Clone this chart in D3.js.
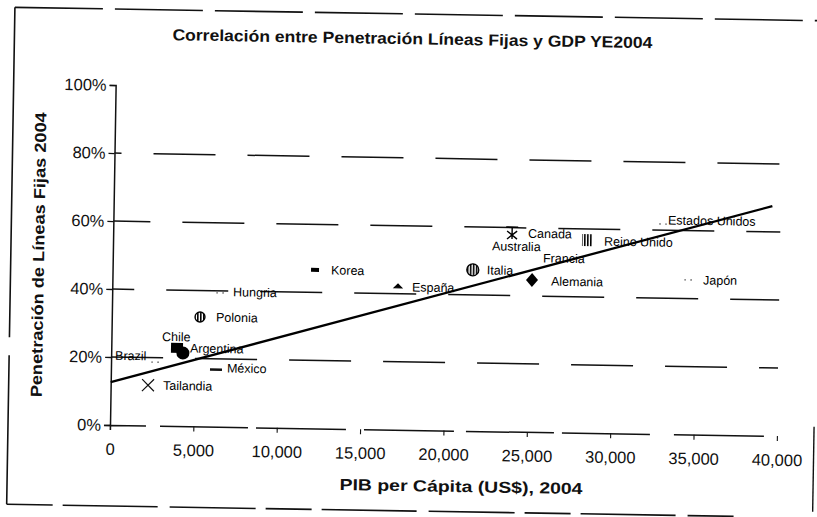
<!DOCTYPE html>
<html>
<head>
<meta charset="utf-8">
<script src="https://cdn.jsdelivr.net/npm/d3@7/dist/d3.min.js"></script>
<style>
  html, body { margin: 0; padding: 0; background: #fff; }
  svg { display: block; font-family: "Liberation Sans", Arial, sans-serif; }
</style>
</head>
<body>
<svg id="chart" width="817" height="517"></svg>
<script>
// ---- data ----
const countries = ["Brazil", "Chile", "Argentina", "México", "Tailandia", "Polonia", "Hungria",
  "Korea", "España", "Italia", "Canada", "Australia", "Francia", "Alemania",
  "Reino Unido", "Estados Unidos", "Japón"];
const gdpPerCapita = [2640, 3940, 4300, 6300, 2240, 5290, 6470,
  12140, 17130, 21600, 23920, 22250, 25440, 25160,
  28420, 32960, 34520];
const penetration = [0.187, 0.230, 0.215, 0.167, 0.119, 0.322, 0.394,
  0.466, 0.423, 0.474, 0.584, 0.542, 0.509, 0.447,
  0.567, 0.618, 0.455];
const xTickValues = [0, 5000, 10000, 15000, 20000, 25000, 30000, 35000, 40000];
const yTickValues = [0, 0.2, 0.4, 0.6, 0.8, 1.0];
const trendX = [0, 39500];
const trendY = [0.126, 0.676];

const titleText = "Correlación entre Penetración Líneas Fijas y GDP YE2004";
const xTitle = "PIB per Cápita (US$), 2004";
const yTitle = "Penetración de Líneas Fijas 2004";

// ---- styles (marker type and label offset per country) ----
const markerStyle = {
  "Brazil": "faint", "Chile": "square", "Argentina": "circle", "México": "dash",
  "Tailandia": "x", "Polonia": "hatchCircle", "Hungria": "faint", "Korea": "smallDash",
  "España": "tri", "Italia": "hatchCircleBig", "Canada": "star", "Australia": "none",
  "Francia": "none", "Alemania": "diamond", "Reino Unido": "stripeRect",
  "Estados Unidos": "faint", "Japón": "faint"
};
const labelOffset = {
  "Brazil": [-40, -5], "Chile": [-15, -10], "Argentina": [7, -4], "México": [11, -1],
  "Tailandia": [15, 1], "Polonia": [16, 1], "Hungria": [13, 0], "Korea": [16, 1],
  "España": [14, 2], "Italia": [14, 1], "Canada": [16, 1], "Australia": [8, 0],
  "Francia": [6, 0], "Alemania": [19, 2], "Reino Unido": [17, 2],
  "Estados Unidos": [5, -3], "Japón": [15, 1]
};

// ---- layout ----
const svg = d3.select("#chart");
const ox = 110, oy = 425, pw = 667, ph = 340;

const defs = svg.append("defs");
const pat = defs.append("pattern").attr("id", "vstripes").attr("patternUnits", "userSpaceOnUse")
  .attr("width", 3).attr("height", 3);
pat.append("rect").attr("width", 3).attr("height", 3).attr("fill", "#fff");
pat.append("rect").attr("width", 1.6).attr("height", 3).attr("fill", "#000");

const root = svg.append("g").attr("transform", `rotate(0.95, ${ox}, ${oy})`);

// frame (scanned border)
const frame = root.append("g").attr("stroke", "#111").attr("fill", "none");
frame.append("line").attr("x1", 8).attr("y1", 9).attr("x2", 830).attr("y2", 9)
  .attr("stroke-width", 1.6).attr("stroke-dasharray", "88,12");
frame.append("line").attr("x1", 8).attr("y1", 9).attr("x2", 8).attr("y2", 506)
  .attr("stroke-width", 1.6).attr("stroke-dasharray", "330,18,200");
frame.append("line").attr("x1", 8).attr("y1", 506).attr("x2", 735).attr("y2", 506)
  .attr("stroke-width", 1.6).attr("stroke-dasharray", "46,10,95,12,86,10");
frame.append("line").attr("x1", 814).attr("y1", 415).attr("x2", 814).attr("y2", 500)
  .attr("stroke-width", 1.4);

const x = d3.scaleLinear().domain([0, 40000]).range([ox, ox + pw]);
const y = d3.scaleLinear().domain([0, 1]).range([oy, oy - ph]);

// gridlines
const grid = root.append("g");
[0.2, 0.4, 0.6, 0.8].forEach((v, i) => {
  grid.append("line")
    .attr("x1", x(0)).attr("x2", x(40000))
    .attr("y1", y(v)).attr("y2", y(v))
    .attr("stroke", "#111").attr("stroke-width", 1.5)
    .attr("stroke-dasharray", "62,32")
    .attr("stroke-dashoffset", [10, 40, 25, 55][i]);
});

// title
root.append("text").attr("x", 406).attr("y", 35)
  .attr("text-anchor", "middle").attr("dominant-baseline", "middle")
  .attr("font-size", 16).attr("font-weight", "bold").attr("fill", "#111")
  .attr("textLength", 480).attr("lengthAdjust", "spacingAndGlyphs")
  .text(titleText);

// y axis
const yAxis = root.append("g").attr("transform", `translate(${ox},0)`)
  .call(d3.axisLeft(y).tickValues(yTickValues).tickFormat(d3.format(".0%")).tickSize(6).tickSizeOuter(6));
yAxis.selectAll("text").attr("font-size", 16.5).attr("fill", "#111")
  .attr("font-family", "Liberation Sans, Arial, sans-serif").attr("x", -9);
yAxis.selectAll("line").attr("stroke", "#111").attr("stroke-width", 1.3);
yAxis.select(".domain").attr("stroke", "#111").attr("stroke-width", 1.5);

// x axis
const xAxis = root.append("g").attr("transform", `translate(0,${oy})`)
  .call(d3.axisBottom(x).tickValues(xTickValues).tickFormat(d3.format(",")).tickSize(5).tickSizeOuter(5));
xAxis.selectAll("text").attr("font-size", 16.5).attr("fill", "#111")
  .attr("font-family", "Liberation Sans, Arial, sans-serif").attr("y", 18);
xAxis.selectAll("line").attr("stroke", "#111").attr("stroke-width", 1.1);
xAxis.select(".domain").attr("stroke", "#111").attr("stroke-width", 1.5)
  .attr("stroke-dasharray", "40,14,88,8,90,18,90,12,88,8,88,24,90");

// axis titles
root.append("text").attr("x", 462).attr("y", 482)
  .attr("text-anchor", "middle").attr("dominant-baseline", "middle")
  .attr("font-size", 16).attr("font-weight", "bold").attr("fill", "#111")
  .attr("textLength", 243).attr("lengthAdjust", "spacingAndGlyphs")
  .text(xTitle);
root.append("text").attr("transform", "translate(37,256) rotate(-90)")
  .attr("text-anchor", "middle").attr("dominant-baseline", "middle")
  .attr("font-size", 16).attr("font-weight", "bold").attr("fill", "#111")
  .attr("textLength", 285).attr("lengthAdjust", "spacingAndGlyphs")
  .text(yTitle);

// trend line
const line = d3.line().x(d => x(d[0])).y(d => y(d[1]));
root.append("path").datum(d3.zip(trendX, trendY)).attr("d", line)
  .attr("fill", "none").attr("stroke", "#000").attr("stroke-width", 2.3);

// points
const pts = countries.map((c, i) => ({ name: c, gx: gdpPerCapita[i], py: penetration[i] }));
const gp = root.append("g");
pts.forEach(p => {
  const cx = x(p.gx), cy = y(p.py);
  const g = gp.append("g").attr("transform", `translate(${cx},${cy})`);
  const t = markerStyle[p.name];
  if (t === "square") {
    g.append("rect").attr("x", -6).attr("y", -5).attr("width", 12).attr("height", 10).attr("fill", "#000");
  } else if (t === "circle") {
    g.append("circle").attr("r", 6.5).attr("fill", "#000");
  } else if (t === "dash") {
    g.append("rect").attr("x", -6).attr("y", -1.5).attr("width", 12).attr("height", 2.5).attr("fill", "#111");
  } else if (t === "smallDash") {
    g.append("rect").attr("x", -4).attr("y", -2).attr("width", 8).attr("height", 4).attr("fill", "#000");
  } else if (t === "x") {
    g.append("path").attr("d", "M-6,-6L6,6M6,-6L-6,6").attr("stroke", "#111").attr("stroke-width", 1.2);
  } else if (t === "hatchCircle" || t === "hatchCircleBig") {
    const r = t === "hatchCircle" ? 5 : 6;
    g.append("circle").attr("r", r).attr("fill", "url(#vstripes)").attr("stroke", "#000").attr("stroke-width", 1.3);
  } else if (t === "faint") {
    g.append("circle").attr("cx", -3).attr("cy", 0).attr("r", 0.9).attr("fill", "#777");
    g.append("circle").attr("cx", 3).attr("cy", 0).attr("r", 0.9).attr("fill", "#777");
  } else if (t === "tri") {
    g.append("path").attr("d", "M-4,2L0,-2L4,2Z").attr("fill", "#000").attr("stroke", "#000");
  } else if (t === "star") {
    g.append("path").attr("d", "M-6,-6L6,-6M0,-6L0,6M-5,-2L5,6M5,-2L-5,6")
      .attr("stroke", "#000").attr("stroke-width", 1.4).attr("fill", "none");
  } else if (t === "diamond") {
    g.append("path").attr("d", "M0,-7L6,0L0,7L-6,0Z").attr("fill", "#000");
  } else if (t === "stripeRect") {
    g.append("rect").attr("x", -5).attr("y", -6).attr("width", 10).attr("height", 12)
      .attr("fill", "url(#vstripes)");
  }
  const off = labelOffset[p.name];
  gp.append("text").attr("x", cx + off[0]).attr("y", cy + off[1])
    .attr("dominant-baseline", "middle")
    .attr("font-size", 12.5).attr("fill", "#000")
    .text(p.name);
});
</script>
</body>
</html>
